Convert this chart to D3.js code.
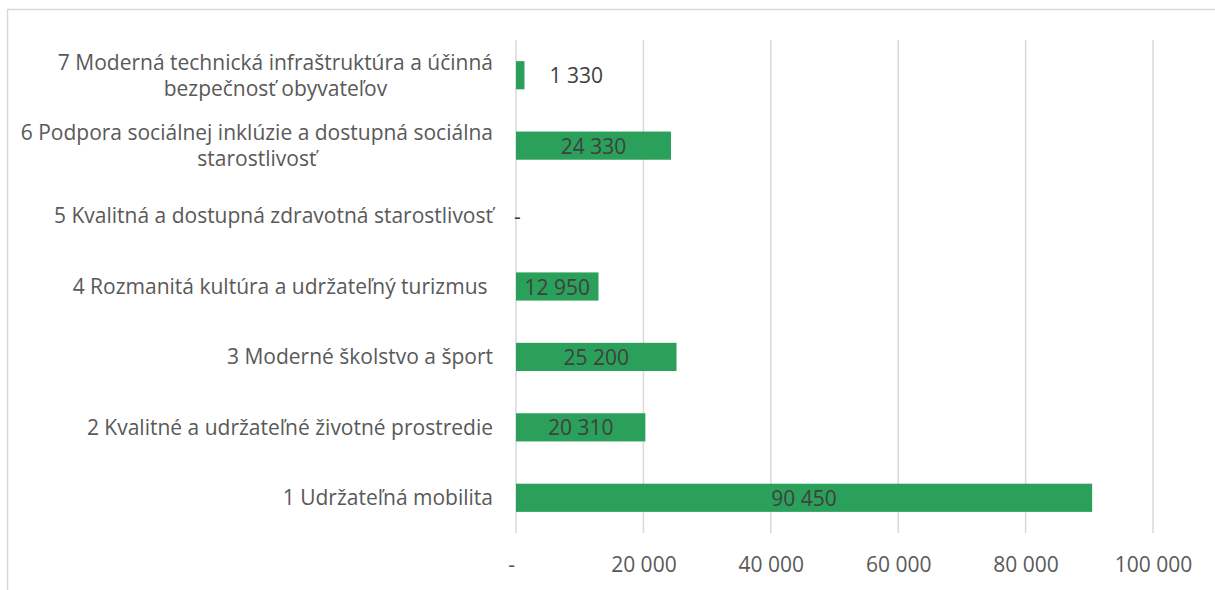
<!DOCTYPE html>
<html>
<head>
<meta charset="utf-8">
<script src="https://cdn.jsdelivr.net/npm/d3@7"></script>
<style>
  html, body { margin: 0; padding: 0; background: #fff; }
  svg { display: block; }
  text { white-space: pre; }
</style>
</head>
<body>
<svg id="chart" width="1215" height="590"></svg>
<script>
// Categories (bottom to top) and allocated amounts
const categories = [
  "1 Udržateľná mobilita",
  "2 Kvalitné a udržateľné životné prostredie",
  "3 Moderné školstvo a šport",
  "4 Rozmanitá kultúra a udržateľný turizmus ",
  "5 Kvalitná a dostupná zdravotná starostlivosť",
  "6 Podpora sociálnej inklúzie a dostupná sociálna starostlivosť",
  "7 Moderná technická infraštruktúra a účinná bezpečnosť obyvateľov"
];
const values = [90450, 20310, 25200, 12950, 0, 24330, 1330];
const xTicks = [0, 20000, 40000, 60000, 80000, 100000];

const W = 1215, H = 590;
const margin = { top: 40, right: 62, bottom: 57, left: 516 };
const FONT = "'Open Sans', sans-serif";
const FS = 21;

const svg = d3.select("#chart");

// outer chart frame
svg.append("rect")
  .attr("x", 7.5).attr("y", 9.5)
  .attr("width", W + 20).attr("height", H + 20)
  .attr("fill", "none").attr("stroke", "#d9d9d9").attr("stroke-width", 1.5);

const x = d3.scaleLinear().domain([0, 100000]).range([margin.left, W - margin.right]);
const y = d3.scaleBand().domain(categories)
  .range([H - margin.bottom, margin.top])
  .paddingInner(0.6).paddingOuter(0.3);

const fmt = v => v === 0 ? "-" : d3.format(",")(v).replace(/,/g, " ");

// vertical gridlines
svg.append("g").selectAll("line").data(xTicks).join("line")
  .attr("x1", d => x(d)).attr("x2", d => x(d))
  .attr("y1", margin.top).attr("y2", H - margin.bottom)
  .attr("stroke", "#d9d9d9").attr("stroke-width", 1.5);

// x axis labels
const xAxis = d3.axisBottom(x).tickValues(xTicks).tickSize(0).tickPadding(0).tickFormat(fmt);
const gx = svg.append("g").attr("transform", `translate(0,${H - margin.bottom + 32})`).call(xAxis);
gx.select(".domain").remove();
gx.selectAll("text")
  .attr("font-family", FONT).attr("font-size", FS).attr("fill", "#595959")
  .attr("dy", "0.35em")
  .attr("dx", d => d === 0 ? -5 : 0);

// bars
const bars = categories.map((c, i) => ({ c, v: values[i] }));
svg.append("g").selectAll("rect").data(bars.filter(d => d.v > 0)).join("rect")
  .attr("x", x(0))
  .attr("y", d => y(d.c))
  .attr("width", d => x(d.v) - x(0))
  .attr("height", y.bandwidth())
  .attr("fill", "#2aa05a");

// value labels: centred in bar, or beside short/empty bars
svg.append("g").selectAll("text").data(bars).join("text")
  .attr("font-family", FONT).attr("font-size", FS).attr("fill", "#404040")
  .attr("dominant-baseline", "central")
  .attr("y", d => y(d.c) + y.bandwidth() / 2)
  .attr("x", d => {
    const w = x(d.v) - x(0);
    if (d.v === 0) return x(0) - 2;
    if (w < 40) return x(d.v) + 25;
    return x(0) + w / 2;
  })
  .attr("text-anchor", d => {
    const w = x(d.v) - x(0);
    return (d.v === 0 || w < 40) ? "start" : "middle";
  })
  .text(d => fmt(d.v));

// category labels: wrapped to a fixed width, block right-aligned, lines centred
const labelRight = margin.left - 23;
const maxW = 486;
const lineH = 26;
const gy = svg.append("g");
categories.forEach(c => {
  const t = gy.append("text")
    .attr("font-family", FONT).attr("font-size", FS).attr("fill", "#595959")
    .attr("text-anchor", "middle");
  const probe = t.append("tspan");
  const measure = s => { probe.text(s); return probe.node().getComputedTextLength(); };
  const words = c.split(" ");
  const lines = [];
  let cur = [];
  words.forEach(w => {
    const test = cur.concat([w]).join(" ");
    if (cur.length && measure(test.trimEnd()) > maxW) {
      lines.push(cur.join(" "));
      cur = [w];
    } else cur.push(w);
  });
  lines.push(cur.join(" "));
  const blockW = d3.max(lines, l => measure(l));
  probe.remove();
  const cx = labelRight - blockW / 2;
  const cy = y(c) + y.bandwidth() / 2;
  const y0 = cy - (lines.length - 1) * lineH / 2;
  lines.forEach((l, i) => {
    t.append("tspan")
      .attr("x", cx)
      .attr("y", y0 + i * lineH)
      .attr("dy", "0.35em")
      .text(l);
  });
});
</script>
</body>
</html>
